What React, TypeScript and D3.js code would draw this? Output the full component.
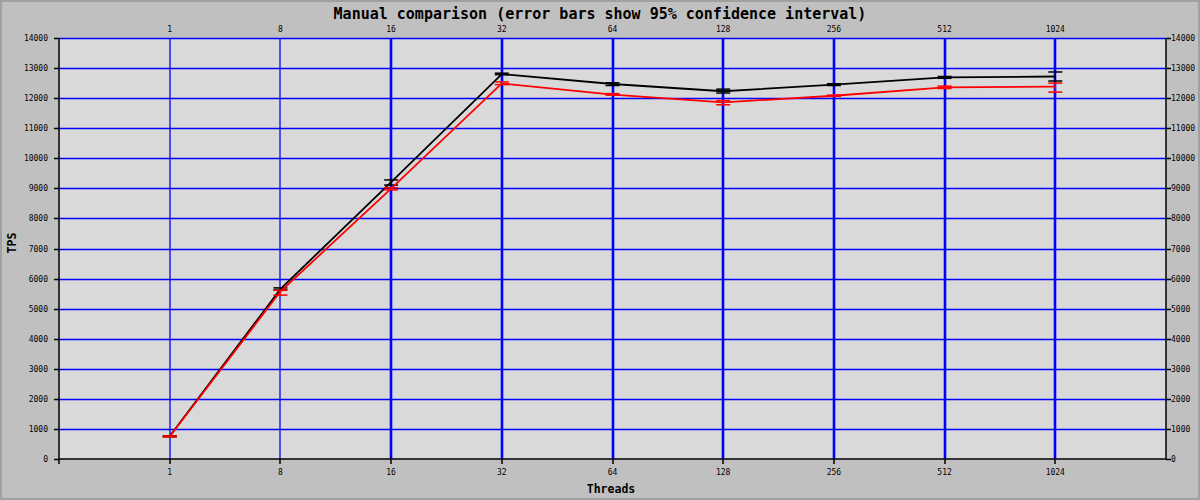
import React, { useRef, useEffect } from 'react';
import * as d3 from 'd3';

// thread counts on the x axis
const threads = ['1', '8', '16', '32', '64', '128', '256', '512', '1024'];

// black series: mean TPS and 95% CI
const blackTps = [755, 5650, 9210, 12800, 12470, 12230, 12450, 12690, 12720];
const blackLow = [740, 5620, 9110, 12780, 12420, 12170, 12420, 12660, 12570];
const blackHigh = [770, 5690, 9280, 12830, 12510, 12300, 12480, 12720, 12870];

// red series: mean TPS and 95% CI
const redTps = [750, 5570, 8990, 12490, 12120, 11860, 12080, 12360, 12380];
const redLow = [735, 5450, 8950, 12450, 12100, 11780, 12060, 12320, 12200];
const redHigh = [765, 5610, 9020, 12540, 12150, 11920, 12100, 12400, 12500];

const yTicks = d3.range(0, 14001, 1000);

const App = () => {
  const ref = useRef(null);

  useEffect(() => {
    if (!ref.current) return;
    const width = 1200;
    const height = 500;
    const left = 59;
    const right = 1166;
    const top = 38;
    const bottom = 459;
    const mono = 'DejaVu Sans Mono, monospace';

    const svg = d3.select(ref.current);
    svg.selectAll('*').remove();
    svg.attr('width', width).attr('height', height);

    // backgrounds
    svg.append('rect').attr('width', width).attr('height', height).attr('fill', '#c0c0c0');
    svg.append('rect')
      .attr('x', 1).attr('y', 1).attr('width', width - 2).attr('height', height - 2)
      .attr('fill', 'none').attr('stroke', '#a0a0a0').attr('stroke-width', 2);
    svg.append('rect')
      .attr('x', left).attr('y', top).attr('width', right - left).attr('height', bottom - top)
      .attr('fill', '#d9d9d9');

    const x = d3.scalePoint().domain(threads).range([left, right]).padding(1);
    const y = d3.scaleLinear().domain([0, 14000]).range([bottom, top]);

    // horizontal grid
    svg.append('g').selectAll('line').data(yTicks.slice(1)).enter().append('line')
      .attr('x1', left).attr('x2', right)
      .attr('y1', d => Math.round(y(d)) + 0.5).attr('y2', d => Math.round(y(d)) + 0.5)
      .attr('stroke', '#0000ff').attr('stroke-width', 1.3);

    // vertical grid
    svg.append('g').selectAll('line').data(threads).enter().append('line')
      .attr('x1', d => Math.round(x(d))).attr('x2', d => Math.round(x(d)))
      .attr('y1', top).attr('y2', bottom)
      .attr('stroke', '#0000ff')
      .attr('stroke-width', (d, i) => (i < 2 ? 1.3 : 2.6));

    // axes
    const axisG = svg.append('g').attr('stroke', '#000').attr('stroke-width', 1.5);
    axisG.append('line').attr('x1', left).attr('x2', left).attr('y1', top).attr('y2', bottom + 5);
    axisG.append('line').attr('x1', right).attr('x2', right).attr('y1', top).attr('y2', bottom);
    axisG.append('line').attr('x1', left).attr('x2', right).attr('y1', bottom).attr('y2', bottom);
    axisG.selectAll('.yl').data(yTicks).enter().append('line')
      .attr('x1', left - 5).attr('x2', left)
      .attr('y1', d => Math.round(y(d)) + 0.5).attr('y2', d => Math.round(y(d)) + 0.5);
    axisG.selectAll('.yr').data(yTicks).enter().append('line')
      .attr('x1', right).attr('x2', right + 5)
      .attr('y1', d => Math.round(y(d)) + 0.5).attr('y2', d => Math.round(y(d)) + 0.5);
    axisG.selectAll('.xb').data(threads).enter().append('line')
      .attr('x1', d => Math.round(x(d))).attr('x2', d => Math.round(x(d)))
      .attr('y1', bottom).attr('y2', bottom + 5);

    // tick labels
    const tickText = (sel) => sel
      .attr('font-family', mono).attr('font-size', 8).attr('fill', '#000');
    svg.append('g').selectAll('text').data(yTicks).enter().append('text')
      .attr('x', left - 11).attr('y', d => y(d) + 3)
      .attr('text-anchor', 'end').text(d => d).call(tickText);
    svg.append('g').selectAll('text').data(yTicks).enter().append('text')
      .attr('x', right + 5).attr('y', d => y(d) + 3)
      .attr('text-anchor', 'start').text(d => d).call(tickText);
    svg.append('g').selectAll('text').data(threads).enter().append('text')
      .attr('x', d => x(d)).attr('y', bottom + 16)
      .attr('text-anchor', 'middle').text(d => d).call(tickText);
    svg.append('g').selectAll('text').data(threads).enter().append('text')
      .attr('x', d => x(d)).attr('y', top - 6)
      .attr('text-anchor', 'middle').text(d => d).call(tickText);

    // titles
    svg.append('text')
      .attr('x', 600).attr('y', 19).attr('text-anchor', 'middle')
      .attr('font-family', mono).attr('font-size', 15).attr('font-weight', 'bold')
      .text('Manual comparison (error bars show 95% confidence interval)');
    svg.append('text')
      .attr('x', 611).attr('y', 493).attr('text-anchor', 'middle')
      .attr('font-family', mono).attr('font-size', 11.5).attr('font-weight', 'bold')
      .text('Threads');
    svg.append('text')
      .attr('transform', 'translate(16,243) rotate(-90)').attr('text-anchor', 'middle')
      .attr('font-family', mono).attr('font-size', 11.5).attr('font-weight', 'bold')
      .text('TPS');

    // series
    const series = [
      { color: '#000000', tps: blackTps, low: blackLow, high: blackHigh },
      { color: '#ff0000', tps: redTps, low: redLow, high: redHigh },
    ];
    const line = d3.line()
      .x((d, i) => x(threads[i]))
      .y(d => y(d));

    series.forEach(s => {
      const g = svg.append('g');
      g.append('path')
        .attr('d', line(s.tps))
        .attr('fill', 'none').attr('stroke', s.color).attr('stroke-width', 1.8);
      const bars = g.selectAll('.eb').data(threads).enter().append('g');
      bars.append('line')
        .attr('x1', d => x(d)).attr('x2', d => x(d))
        .attr('y1', (d, i) => y(s.low[i])).attr('y2', (d, i) => y(s.high[i]))
        .attr('stroke', s.color).attr('stroke-width', 1.2);
      bars.append('line')
        .attr('x1', d => x(d) - 7).attr('x2', d => x(d) + 7)
        .attr('y1', (d, i) => y(s.low[i])).attr('y2', (d, i) => y(s.low[i]))
        .attr('stroke', s.color).attr('stroke-width', 1.5);
      bars.append('line')
        .attr('x1', d => x(d) - 7).attr('x2', d => x(d) + 7)
        .attr('y1', (d, i) => y(s.high[i])).attr('y2', (d, i) => y(s.high[i]))
        .attr('stroke', s.color).attr('stroke-width', 1.5);
    });
  }, []);

  return (
    <div style={{ position: 'fixed', left: 0, top: 0 }}>
      <svg ref={ref} style={{ display: 'block' }} />
    </div>
  );
};

export default App;
